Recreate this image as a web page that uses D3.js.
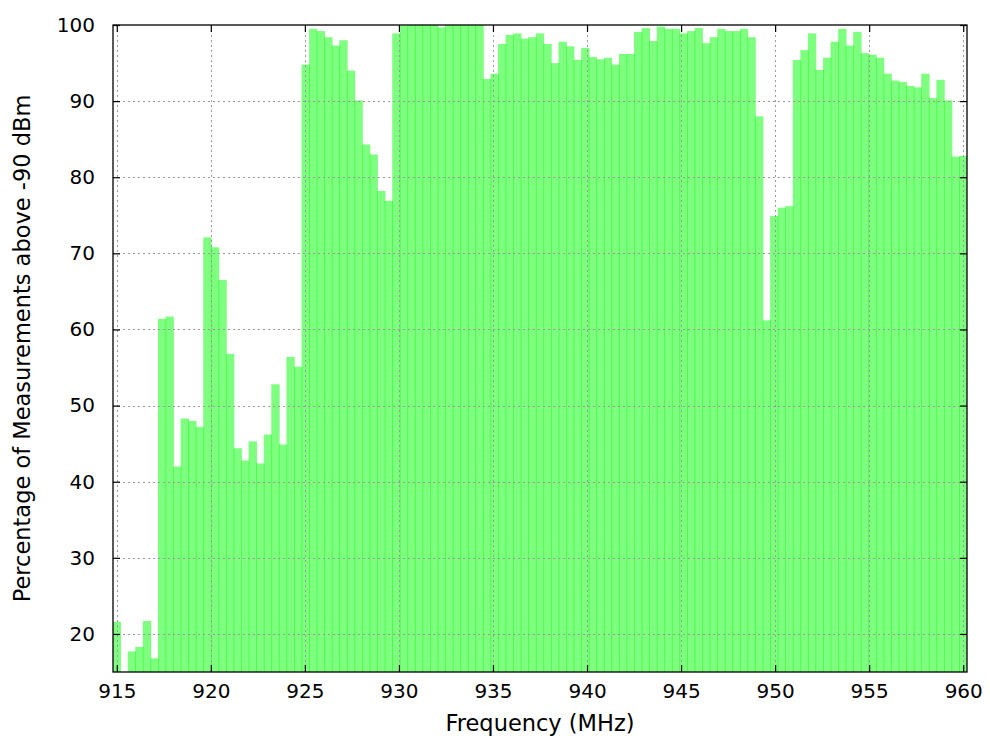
<!DOCTYPE html>
<html>
<head>
<meta charset="utf-8">
<script src="https://cdn.jsdelivr.net/npm/d3@7"></script>
<style>
  html, body { margin: 0; padding: 0; background: #ffffff; }
  svg { display: block; }
  text { font-family: "DejaVu Sans", sans-serif; fill: #000; }
</style>
</head>
<body>
<svg id="chart" width="990" height="747"></svg>
<script>
// ---- data ----
const freqStart = 915;   // MHz, centre of first bin
const freqEnd = 960;     // MHz, centre of last bin
const xTicks = [915, 920, 925, 930, 935, 940, 945, 950, 955, 960];
const yTicks = [20, 30, 40, 50, 60, 70, 80, 90, 100];
const xLabel = "Frequency (MHz)";
const yLabel = "Percentage of Measurements above -90 dBm";
// percentage per frequency bin, low to high
const values915to935 = [
  21.6, 14.0, 17.7, 18.3, 21.7, 16.8, 61.4, 61.7, 42.0, 48.3,
  48.0, 47.2, 72.1, 70.8, 66.5, 56.8, 44.4, 42.8, 45.3, 42.4,
  46.2, 52.8, 44.9, 56.4, 55.1, 94.8, 99.5, 99.2, 98.4, 97.3,
  98.0, 94.0, 90.1, 84.3, 83.0, 78.2, 76.9, 98.9, 99.9, 100,
  100, 100, 100, 99.7, 100, 100, 100, 100, 100
];
const values935to943 = [
  92.9, 93.6, 97.5, 98.7, 98.9, 98.2, 98.4, 98.9, 97.5, 95.0,
  97.8, 97.2, 95.4, 97.0, 95.8, 95.5, 95.7, 94.8, 96.2, 96.2,
  99.1, 99.6
];
const values943to952 = [
  97.9, 99.8, 99.5, 99.5, 98.9, 99.2, 99.6, 97.6, 98.4, 99.5,
  99.2, 99.2, 99.5, 98.4, 88.0, 61.2, 74.9, 76.0, 76.2, 95.4,
  96.7, 98.9, 94.1
];
const values952to960 = [
  95.7, 97.8, 99.5, 97.3, 99.1, 96.3, 96.1, 95.7, 93.6, 92.7,
  92.5, 92.0, 91.8, 93.6, 90.4, 92.8, 90.1, 82.7, 82.8
];
const values = [].concat(values915to935, values935to943, values943to952, values952to960);

// ---- layout ----
const svg = d3.select("#chart");
const plot = { left: 113, right: 967, top: 25, bottom: 672 };
const nBins = values.length;
const binStep = (freqEnd - freqStart) / (nBins - 1);
const x = d3.scaleLinear()
  .domain([freqStart - binStep / 2, freqEnd + binStep / 2])
  .range([plot.left, plot.right]);
const y = d3.scaleLinear().domain([15, 100]).range([plot.bottom, plot.top]);
const band = d3.scaleBand()
  .domain(d3.range(nBins))
  .range([x(freqStart - binStep / 2), x(freqEnd + binStep / 2)])
  .paddingInner(0).paddingOuter(0);

svg.append("rect").attr("width", 990).attr("height", 747).attr("fill", "#fff");

svg.append("defs").append("clipPath").attr("id", "clip")
  .append("rect")
  .attr("x", plot.left).attr("y", plot.top)
  .attr("width", plot.right - plot.left).attr("height", plot.bottom - plot.top);

// bars
svg.append("g").attr("clip-path", "url(#clip)")
  .selectAll("rect").data(values).join("rect")
  .attr("x", (d, i) => band(i) - 0.4)
  .attr("width", band.bandwidth() + 0.8)
  .attr("y", d => y(Math.max(d, 15)))
  .attr("height", d => Math.max(0, plot.bottom - y(Math.max(d, 15))))
  .attr("fill", "#00ff00")
  .attr("fill-opacity", 0.5);

// grid (front)
const grid = svg.append("g")
  .attr("stroke", "#9a9a9a").attr("stroke-width", 1).attr("stroke-dasharray", "2,3");
grid.selectAll("line.gx").data(xTicks).join("line")
  .attr("x1", d => Math.round(x(d)) + 0.5).attr("x2", d => Math.round(x(d)) + 0.5)
  .attr("y1", plot.top).attr("y2", plot.bottom);
grid.selectAll("line.gy").data(yTicks.filter(t => t < 100)).join("line")
  .attr("y1", d => Math.round(y(d)) + 0.5).attr("y2", d => Math.round(y(d)) + 0.5)
  .attr("x1", plot.left).attr("x2", plot.right);

// axes with inward ticks, mirrored
const tickLen = 7;
const fontSize = 20;
const titleSize = 22.5;
const xAxisB = d3.axisBottom(x).tickValues(xTicks).tickSize(-tickLen).tickPadding(tickLen + 5).tickSizeOuter(0);
const xAxisT = d3.axisTop(x).tickValues(xTicks).tickSize(-tickLen).tickFormat("").tickSizeOuter(0);
const yAxisL = d3.axisLeft(y).tickValues(yTicks).tickSize(-tickLen).tickPadding(tickLen + 11).tickSizeOuter(0);
const yAxisR = d3.axisRight(y).tickValues(yTicks).tickSize(-tickLen).tickFormat("").tickSizeOuter(0);

function styleAxis(g) {
  g.select(".domain").remove();
  g.selectAll(".tick line").attr("stroke", "#000").attr("stroke-width", 1.2);
  g.selectAll(".tick text").attr("font-family", "DejaVu Sans, sans-serif")
    .attr("font-size", fontSize).attr("fill", "#000");
}
svg.append("g").attr("transform", `translate(0,${plot.bottom})`).call(xAxisB).call(styleAxis);
svg.append("g").attr("transform", `translate(0,${plot.top})`).call(xAxisT).call(styleAxis);
svg.append("g").attr("transform", `translate(${plot.left},0)`).call(yAxisL).call(styleAxis);
svg.append("g").attr("transform", `translate(${plot.right},0)`).call(yAxisR).call(styleAxis);

// border
svg.append("rect")
  .attr("x", plot.left).attr("y", plot.top)
  .attr("width", plot.right - plot.left).attr("height", plot.bottom - plot.top)
  .attr("fill", "none").attr("stroke", "#000").attr("stroke-width", 1.3);

// axis labels
svg.append("text")
  .attr("x", (plot.left + plot.right) / 2).attr("y", 731)
  .attr("text-anchor", "middle").attr("font-size", titleSize)
  .text(xLabel);
svg.append("text")
  .attr("transform", `translate(30,${(plot.top + plot.bottom) / 2}) rotate(-90)`)
  .attr("text-anchor", "middle").attr("font-size", titleSize)
  .text(yLabel);
</script>
</body>
</html>
